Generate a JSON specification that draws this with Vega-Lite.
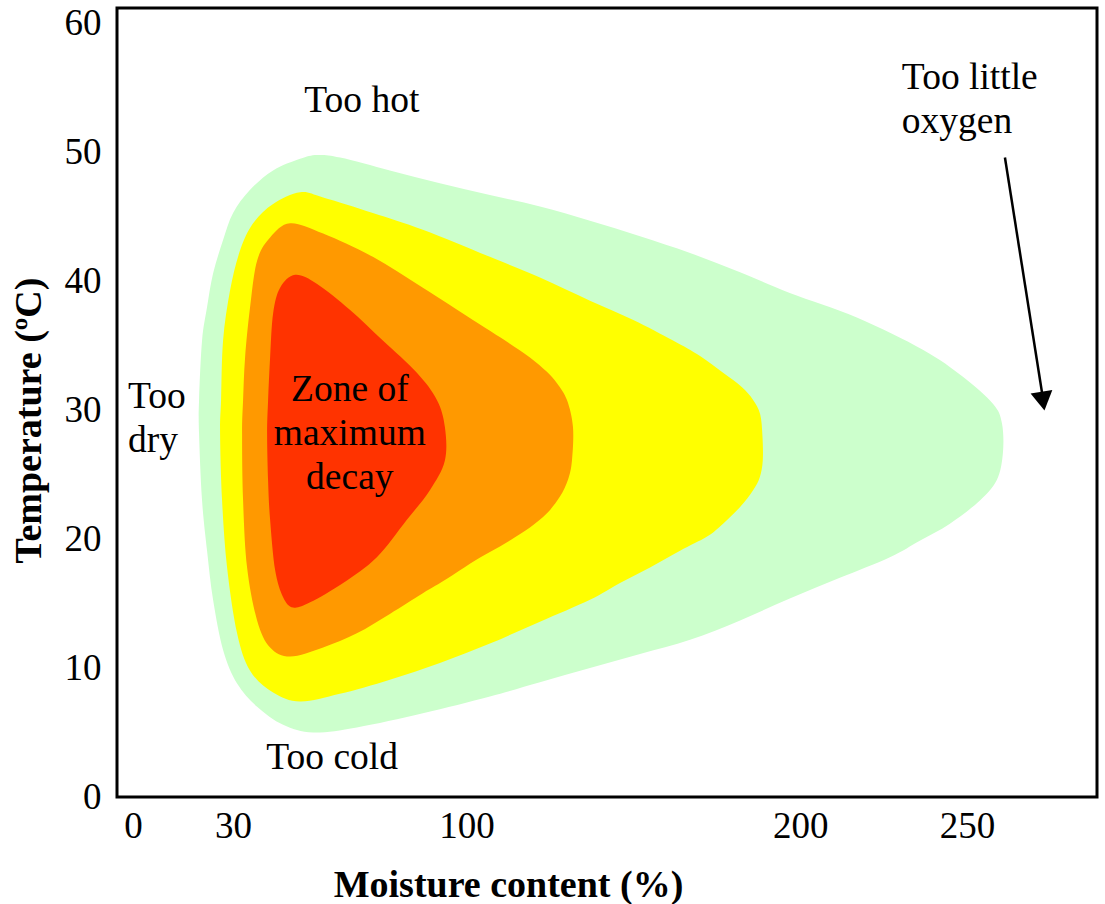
{
  "$schema": "https://vega.github.io/schema/vega-lite/v6.json",
  "width": 980,
  "height": 789,
  "autosize": {"type": "none"},
  "padding": {"left": 117, "top": 8, "right": 8, "bottom": 107},
  "background": "white",
  "config": {
    "view": {"stroke": "black", "strokeWidth": 3},
    "font": "Liberation Serif"
  },
  "datasets": {
    "green": [
      {"m": 55.2, "t": 49.8}, {"m": 62.1, "t": 49.6}, {"m": 77.0, "t": 48.6}, {"m": 92.0, "t": 47.6},
      {"m": 107.0, "t": 46.7}, {"m": 122.0, "t": 45.8}, {"m": 137.0, "t": 44.7}, {"m": 152.0, "t": 43.5}, {"m": 167.0, "t": 42.2}, {"m": 182.0, "t": 40.7}, {"m": 196.9, "t": 39.1},
      {"m": 217.0, "t": 37.2}, {"m": 236.8, "t": 34.7}, {"m": 248.8, "t": 32.6}, {"m": 257.8, "t": 30.5},
      {"m": 260.5, "t": 29.0}, {"m": 260.8, "t": 26.7}, {"m": 259.0, "t": 24.6}, {"m": 253.9, "t": 23.0},
      {"m": 244.9, "t": 21.2}, {"m": 236.0, "t": 19.9}, {"m": 226.9, "t": 18.6}, {"m": 211.9, "t": 17.0}, {"m": 196.9, "t": 15.4}, {"m": 182.0, "t": 13.7}, {"m": 167.0, "t": 12.2},
      {"m": 152.0, "t": 11.1}, {"m": 137.0, "t": 10.0}, {"m": 122.0, "t": 8.9}, {"m": 107.0, "t": 7.8}, {"m": 86.9, "t": 6.5}, {"m": 67.1, "t": 5.4},
      {"m": 54.0, "t": 5.0}, {"m": 45.0, "t": 5.6}, {"m": 37.2, "t": 7.0}, {"m": 31.2, "t": 8.8},
      {"m": 27.0, "t": 11.4}, {"m": 24.0, "t": 15.3}, {"m": 22.2, "t": 19.1}, {"m": 20.7, "t": 23.0},
      {"m": 19.8, "t": 28.2}, {"m": 19.8, "t": 30.8}, {"m": 20.7, "t": 35.4}, {"m": 22.2, "t": 38.0},
      {"m": 24.0, "t": 40.6}, {"m": 27.0, "t": 43.2}, {"m": 30.0, "t": 45.3}, {"m": 35.1, "t": 47.1},
      {"m": 42.0, "t": 48.6}, {"m": 50.1, "t": 49.5}
    ],
    "yellow": [
      {"m": 50.1, "t": 46.9}, {"m": 57.0, "t": 46.5}, {"m": 71.9, "t": 45.3}, {"m": 86.9, "t": 44.0},
      {"m": 107.0, "t": 41.9}, {"m": 122.0, "t": 40.3}, {"m": 137.0, "t": 38.5}, {"m": 150.0, "t": 37.0}, {"m": 161.9, "t": 35.4}, {"m": 170.0, "t": 34.2}, {"m": 176.9, "t": 32.9},
      {"m": 182.5, "t": 31.8}, {"m": 185.9, "t": 30.8}, {"m": 188.0, "t": 29.7}, {"m": 188.7, "t": 28.0}, {"m": 188.8, "t": 26.1}, {"m": 187.9, "t": 24.8},
      {"m": 185.9, "t": 23.8}, {"m": 182.0, "t": 22.5}, {"m": 176.9, "t": 21.2}, {"m": 172.1, "t": 20.2}, {"m": 164.0, "t": 19.1}, {"m": 155.0, "t": 17.8}, {"m": 146.0, "t": 16.6}, {"m": 137.0, "t": 15.3}, {"m": 122.0, "t": 13.6}, {"m": 107.0, "t": 11.9},
      {"m": 92.0, "t": 10.4}, {"m": 77.0, "t": 9.1}, {"m": 62.0, "t": 8.0}, {"m": 50.1, "t": 7.4}, {"m": 42.0, "t": 8.1}, {"m": 35.1, "t": 9.8},
      {"m": 31.2, "t": 12.7}, {"m": 28.2, "t": 17.8}, {"m": 26.7, "t": 23.0}, {"m": 26.1, "t": 28.2},
      {"m": 26.4, "t": 30.8}, {"m": 27.0, "t": 35.4}, {"m": 29.1, "t": 39.3}, {"m": 32.1, "t": 42.4},
      {"m": 36.0, "t": 44.5}, {"m": 42.0, "t": 46.0}
    ],
    "orange": [
      {"m": 47.1, "t": 44.5}, {"m": 57.0, "t": 43.7}, {"m": 71.9, "t": 41.9}, {"m": 86.9, "t": 39.5},
      {"m": 101.9, "t": 37.0}, {"m": 111.0, "t": 35.5}, {"m": 119.0, "t": 34.1}, {"m": 124.0, "t": 33.0}, {"m": 127.1, "t": 32.1}, {"m": 130.1, "t": 30.8},
      {"m": 131.9, "t": 28.7}, {"m": 131.6, "t": 26.1}, {"m": 130.4, "t": 24.6}, {"m": 128.0, "t": 23.3},
      {"m": 124.1, "t": 22.0}, {"m": 119.0, "t": 20.9}, {"m": 113.0, "t": 19.9}, {"m": 107.0, "t": 19.0}, {"m": 101.0, "t": 18.1}, {"m": 94.0, "t": 16.9}, {"m": 86.9, "t": 15.8}, {"m": 77.0, "t": 14.2}, {"m": 67.1, "t": 12.7},
      {"m": 57.0, "t": 11.6}, {"m": 47.1, "t": 10.9}, {"m": 41.1, "t": 11.6}, {"m": 37.2, "t": 13.7}, {"m": 34.2, "t": 17.8},
      {"m": 33.0, "t": 23.0}, {"m": 32.7, "t": 28.2}, {"m": 33.0, "t": 30.8}, {"m": 33.6, "t": 34.1},
      {"m": 35.1, "t": 38.0}, {"m": 37.2, "t": 41.6}, {"m": 41.1, "t": 43.4}
    ],
    "red": [
      {"m": 48.6, "t": 40.5}, {"m": 55.2, "t": 39.8}, {"m": 65.0, "t": 37.8}, {"m": 74.9, "t": 35.4},
      {"m": 85.1, "t": 32.9}, {"m": 91.1, "t": 30.8}, {"m": 93.5, "t": 28.7}, {"m": 93.5, "t": 26.1},
      {"m": 89.0, "t": 23.8}, {"m": 82.1, "t": 21.5}, {"m": 73.1, "t": 18.6}, {"m": 63.0, "t": 16.6}, {"m": 53.1, "t": 15.1}, {"m": 48.0, "t": 14.7},
      {"m": 45.0, "t": 15.5}, {"m": 42.6, "t": 17.6}, {"m": 41.1, "t": 21.5}, {"m": 40.5, "t": 24.5}, {"m": 40.2, "t": 28.2},
      {"m": 40.5, "t": 30.8}, {"m": 41.1, "t": 34.1}, {"m": 42.0, "t": 37.5}, {"m": 44.1, "t": 39.5}
    ],
    "centerLabels": [
      {"m": 68.6, "t": 54.0, "label": "Too hot"},
      {"m": 59.7, "t": 3.0, "label": "Too cold"},
      {"m": 65.0, "t": 31.55, "label": "Zone of\nmaximum\ndecay"}
    ],
    "leftLabels": [
      {"m": -1.5, "t": 31.0, "label": "Too\ndry"},
      {"m": 230.5, "t": 55.8, "label": "Too little\noxygen"}
    ],
    "arrow": [
      {"m": 261.4, "t": 49.6, "m2": 272.5, "t2": 31.4}
    ],
    "arrowHead": [
      {"m": 272.8, "t": 30.7}
    ]
  },
  "layer": [
    {
      "data": {"name": "green"},
      "mark": {"type": "line", "filled": true, "interpolate": "cardinal-closed", "fill": "#CCFFCC", "strokeWidth": 0},
      "encoding": {
        "x": {
          "field": "m", "type": "quantitative",
          "scale": {"domain": [-4.8, 289], "nice": false, "zero": false},
          "axis": {
            "values": [0, 30, 100, 200, 250],
            "title": "Moisture content (%)",
            "grid": false, "domain": false, "ticks": false,
            "labelFont": "Liberation Serif", "labelFontSize": 37, "labelColor": "black",
            "labelPadding": 11, "labelFlush": false,
            "titleFont": "Liberation Serif", "titleFontSize": 38, "titleFontWeight": "bold", "titleColor": "black",
            "titleX": 391, "titleY": 99, "titleBaseline": "alphabetic", "titleAlign": "center"
          }
        },
        "y": {
          "field": "t", "type": "quantitative",
          "scale": {"domain": [0, 61.2], "nice": false},
          "axis": {
            "values": [0, 10, 20, 30, 40, 50, 60],
            "title": "Temperature (ºC)",
            "grid": false, "domain": false, "ticks": false,
            "labelFont": "Liberation Serif", "labelFontSize": 37, "labelColor": "black",
            "labelPadding": 16, "labelFlush": false,
            "titleFont": "Liberation Serif", "titleFontSize": 38, "titleFontWeight": "bold", "titleColor": "black",
            "titleAngle": -90, "titleX": -77, "titleY": 412, "titleBaseline": "alphabetic", "titleAlign": "center"
          }
        },
        "order": {"value": null}
      }
    },
    {
      "data": {"name": "yellow"},
      "mark": {"type": "line", "filled": true, "interpolate": "cardinal-closed", "fill": "#FFFF00", "strokeWidth": 0},
      "encoding": {
        "x": {"field": "m", "type": "quantitative"},
        "y": {"field": "t", "type": "quantitative"},
        "order": {"value": null}
      }
    },
    {
      "data": {"name": "orange"},
      "mark": {"type": "line", "filled": true, "interpolate": "cardinal-closed", "fill": "#FF9900", "strokeWidth": 0},
      "encoding": {
        "x": {"field": "m", "type": "quantitative"},
        "y": {"field": "t", "type": "quantitative"},
        "order": {"value": null}
      }
    },
    {
      "data": {"name": "red"},
      "mark": {"type": "line", "filled": true, "interpolate": "cardinal-closed", "fill": "#FF3300", "strokeWidth": 0},
      "encoding": {
        "x": {"field": "m", "type": "quantitative"},
        "y": {"field": "t", "type": "quantitative"},
        "order": {"value": null}
      }
    },
    {
      "data": {"name": "centerLabels"},
      "mark": {"type": "text", "font": "Liberation Serif", "fontSize": 37.5, "color": "black", "align": "center", "baseline": "middle", "lineBreak": "\n", "lineHeight": 44},
      "encoding": {
        "x": {"field": "m", "type": "quantitative"},
        "y": {"field": "t", "type": "quantitative"},
        "text": {"field": "label"}
      }
    },
    {
      "data": {"name": "leftLabels"},
      "mark": {"type": "text", "font": "Liberation Serif", "fontSize": 37.5, "color": "black", "align": "left", "baseline": "middle", "lineBreak": "\n", "lineHeight": 44},
      "encoding": {
        "x": {"field": "m", "type": "quantitative"},
        "y": {"field": "t", "type": "quantitative"},
        "text": {"field": "label"}
      }
    },
    {
      "data": {"name": "arrow"},
      "mark": {"type": "rule", "color": "black", "strokeWidth": 2.5},
      "encoding": {
        "x": {"field": "m", "type": "quantitative"},
        "y": {"field": "t", "type": "quantitative"},
        "x2": {"field": "m2"},
        "y2": {"field": "t2"}
      }
    },
    {
      "data": {"name": "arrowHead"},
      "mark": {"type": "point", "shape": "triangle-down", "filled": true, "color": "black", "size": 484, "angle": 351, "opacity": 1},
      "encoding": {
        "x": {"field": "m", "type": "quantitative"},
        "y": {"field": "t", "type": "quantitative"}
      }
    }
  ]
}
